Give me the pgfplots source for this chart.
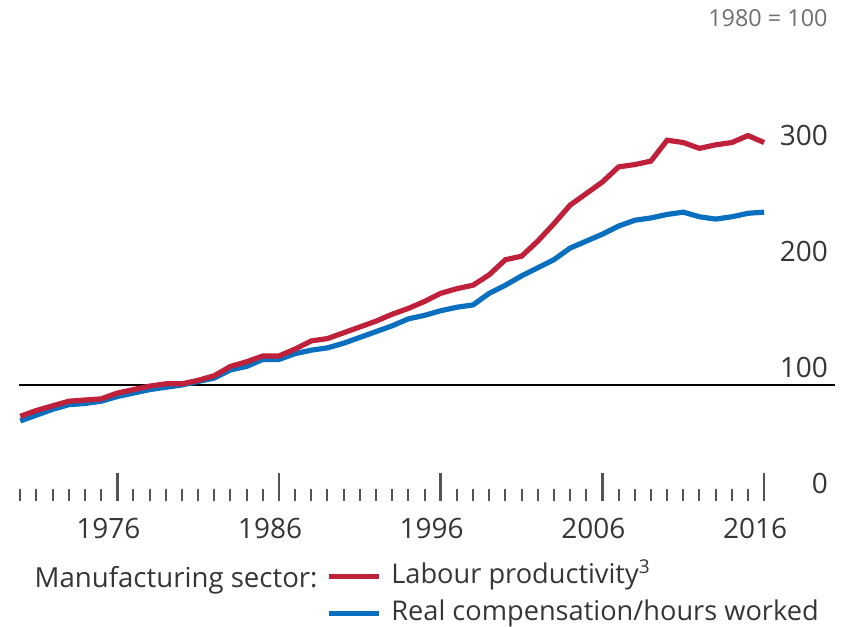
\documentclass[border=0pt]{standalone}
\usepackage{pgfplots}
\pgfplotsset{compat=1.18}
\usepackage{pgfplotstable}
\usepackage{fontspec}
\setmainfont{Open Sans}
\definecolor{bisred}{HTML}{C0213A}
\definecolor{bisblue}{HTML}{0A6FBE}
\definecolor{txt}{HTML}{363636}
\definecolor{ttl}{HTML}{6E6E6E}
\pgfplotstableread{
year red blue
1970 73 69
1971 78 74
1972 82 79
1973 86 83
1974 87 84
1975 88 86
1976 93 90
1977 96 93
1978 99 96
1979 101 98
1980 101 100
1981 104 103
1982 108 106
1983 116 113
1984 120 116
1985 125 122
1986 125 122
1987 131 127
1988 138 130
1989 140 132
1990 145 136
1991 150 141
1992 155 146
1993 161 151
1994 166 157
1995 172 160
1996 179 164
1997 183 167
1998 186 169
1999 195 179
2000 208 186
2001 211 194
2002 224 201
2003 239 208
2004 255 218
2005 265 224
2006 275 230
2007 288 237
2008 290 242
2009 293 244
2010 311 247
2011 309 249
2012 304 245
2013 307 243
2014 309 245
2015 315 248
2016 309 249
}\datatable
\begin{document}
\begin{tikzpicture}
\begin{axis}[
  scale only axis,
  width=409.15pt, height=232pt,
  xmin=1969.8, xmax=2020.4,
  ymin=0, ymax=400,
  clip=false,
  axis line style={draw=none},
  font=\fontsize{14}{16}\selectfont,
  /pgf/number format/assume math mode=true,
  /pgf/number format/1000 sep={},
  xtick={1976,1986,1996,2006,2016},
  minor xtick={1970,...,2016},
  xtick pos=bottom,
  tick align=inside,
  major tick length=14pt,
  minor tick length=6pt,
  major x tick style={draw=txt!85, line width=1.3pt},
  minor x tick style={draw=txt!85, line width=1pt},
  xticklabel style={inner sep=0pt, yshift=-8.5pt, xshift=-4.5pt, text=txt},
  ytick={0,100,200,300},
  ytick pos=right,
  yticklabel pos=right,
  ytick style={draw=none},
  yticklabel style={anchor=south east, inner sep=0pt, xshift=-3.5pt, yshift=3.5pt, text=txt},
  legend style={at={(0.3775,-0.128)}, anchor=north west, draw=none, fill=none,
    inner sep=0pt, font=\fontsize{13.6}{16}\selectfont, text=txt,
    row sep=3pt,
    nodes={inner sep=1pt, text height=10.5pt, text depth=3pt},
    /tikz/every odd column/.append style={column sep=4pt}},
  legend cell align=left,
  reverse legend,
  legend image code/.code={\draw[#1, line width=2.5pt] (0pt,0pt) -- (25pt,0pt);},
]
\addplot[black, line width=1.1pt, forget plot] coordinates {(1969.9,100) (2020.4,100)};
\addplot[bisblue, line width=2.6pt] table[x=year, y=blue] {\datatable};
\addlegendentry{Real compensation/hours worked}
\addplot[bisred, line width=2.6pt] table[x=year, y=red] {\datatable};
\addlegendentry{Labour productivity$^{\mathrm{3}}$}
\node[anchor=east, text=txt, inner sep=0pt, font=\fontsize{13.8}{16}\selectfont] at (axis cs:1988.41,-68) {Manufacturing sector:};
\node[anchor=east, text=ttl, inner sep=0pt, font=\fontsize{11.7}{14}\selectfont] at (axis description cs:0.991,1.041) {1980 = 100};
\coordinate (TL) at (axis cs:1968.746,431.9);
\coordinate (BR) at (axis cs:2020.94,-108.6);
\end{axis}
\pgfresetboundingbox
\path[use as bounding box] (TL) rectangle (BR);
\end{tikzpicture}
\end{document}
